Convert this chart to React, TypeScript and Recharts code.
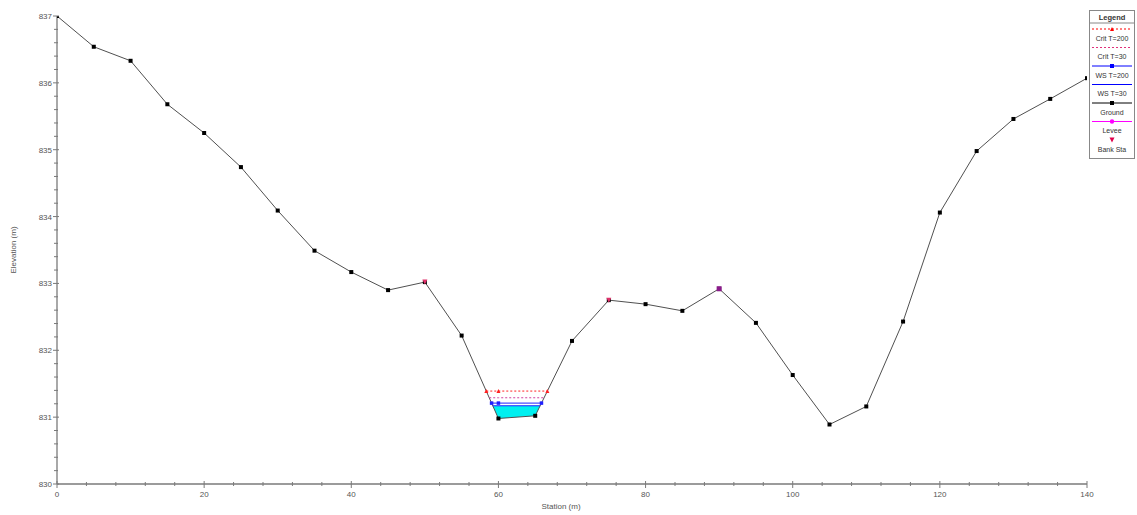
import React from 'react';
import { ComposedChart, Line, Area, XAxis, YAxis, Legend } from 'recharts';

// ---- Data ----
const stations = [0, 5, 10, 15, 20, 25, 30, 35, 40, 45, 50, 55, 60, 65, 70, 75, 80, 85, 90, 95, 100, 105, 110, 115, 120, 125, 130, 135, 140];
const groundElev = [837.0, 836.54, 836.33, 835.68, 835.25, 834.74, 834.09, 833.49, 833.17, 832.9, 833.02, 832.22, 830.98, 831.02, 832.14, 832.75, 832.69, 832.59, 832.92, 832.41, 831.63, 830.89, 831.16, 832.43, 834.06, 834.98, 835.46, 835.76, 836.07];

const critT200Stations = [58.35, 60, 66.65];
const critT200Elev = 831.39;
const critT30Stations = [58.75, 60, 66.2];
const critT30Elev = 831.29;
const wsT200Stations = [59.07, 60, 65.85];
const wsT200Elev = 831.21;
const wsT30Stations = [59.23, 60, 65, 65.67];
const wsT30Ground = [831.17, 830.98, 831.02, 831.17];
const wsT30Elev = 831.17;

const bankStaStations = [50, 75];
const bankStaElev = [833.02, 832.75];
const leveeStations = [90];
const leveeElev = [832.92];

const xMajorTicks = [0, 20, 40, 60, 80, 100, 120, 140];
const yMajorTicks = [830, 831, 832, 833, 834, 835, 836, 837];
const xMinorStep = 4;
const yMinorPerMajor = 5;

const legendItems = ['Crit T=200', 'Crit T=30', 'WS T=200', 'WS T=30', 'Ground', 'Levee', 'Bank Sta'];

// ---- Derived tables ----
const groundData = stations.map((s, i) => ({ x: s, y: groundElev[i] }));
const flat = (sts: number[], e: number) => sts.map((s) => ({ x: s, y: e }));
const critT200Data = flat(critT200Stations, critT200Elev);
const critT30Data = flat(critT30Stations, critT30Elev);
const wsT200Data = flat(wsT200Stations, wsT200Elev);
const wsT30Data = [
  { x: wsT30Stations[0], y: wsT30Elev },
  { x: wsT30Stations[wsT30Stations.length - 1], y: wsT30Elev },
];
const wsT30Fill = wsT30Stations.map((s, i) => ({ x: s, r: [wsT30Ground[i], wsT30Elev] }));
const bankData = bankStaStations.map((s, i) => ({ x: s, y: bankStaElev[i] }));
const leveeData = leveeStations.map((s, i) => ({ x: s, y: leveeElev[i] }));

const xTicks: number[] = [];
for (let v = xMajorTicks[0]; v <= xMajorTicks[xMajorTicks.length - 1]; v += xMinorStep) xTicks.push(v);
const yTicks: number[] = [];
yMajorTicks.forEach((m, i) => {
  if (i === 0) { yTicks.push(m); return; }
  const prev = yMajorTicks[i - 1];
  for (let k = 1; k <= yMinorPerMajor; k++) yTicks.push(Math.round((prev + ((m - prev) * k) / yMinorPerMajor) * 100) / 100);
});

const FONT = '"Liberation Sans", Arial, sans-serif';
const AXIS = '#7a7a7a';
const TEXT = '#555';

const XTick = (p: any) => {
  const v = p.payload.value;
  const major = xMajorTicks.includes(v);
  return (
    <g>
      <line x1={p.x} x2={p.x} y1={p.y - (major ? 3 : 2)} y2={p.y + (major ? 4 : 2)} stroke={AXIS} strokeWidth={1} />
      {major && (
        <text x={p.x} y={p.y + 13} textAnchor="middle" fontSize={8} fontFamily={FONT} fill={TEXT}>{v}</text>
      )}
    </g>
  );
};

const YTick = (p: any) => {
  const v = p.payload.value;
  const major = Number.isInteger(v);
  return (
    <g>
      <line x1={p.x - (major ? 4 : 3)} x2={p.x + (major ? 2 : 1)} y1={p.y} y2={p.y} stroke={AXIS} strokeWidth={1} />
      {major && (
        <text x={p.x - 5} y={p.y + 3} textAnchor="end" fontSize={8} fontFamily={FONT} fill={TEXT}>{v}</text>
      )}
    </g>
  );
};

const sq = (fill: string, size = 4) => (p: any) => (
  <rect key={`s${p.index}`} x={p.cx - size / 2} y={p.cy - size / 2} width={size} height={size} fill={fill} />
);
const tri = (fill: string, size = 4) => (p: any) => (
  <path key={`t${p.index}`} d={`M${p.cx - size / 2},${p.cy + size / 2}L${p.cx + size / 2},${p.cy + size / 2}L${p.cx},${p.cy - size / 2}Z`} fill={fill} />
);
const triDown = (fill: string, size = 5) => (p: any) => (
  <path key={`d${p.index}`} d={`M${p.cx - size / 2},${p.cy - size / 2}L${p.cx + size / 2},${p.cy - size / 2}L${p.cx},${p.cy + size / 2}Z`} fill={fill} />
);

const LegendBox = () => {
  const W = 46;
  const sampleY = (i: number) => 19 + i * 18.5;
  const labelY = (i: number) => 28 + i * 18.5;
  const sample = (i: number) => {
    const y = sampleY(i);
    const cx = W / 2;
    switch (i) {
      case 0:
        return (<g><line x1={3} x2={W - 3} y1={y} y2={y} stroke="#ff0000" strokeDasharray="2 2" /><path d={`M${cx - 2},${y + 2}L${cx + 2},${y + 2}L${cx},${y - 2}Z`} fill="#ff0000" /></g>);
      case 1:
        return (<g><line x1={3} x2={W - 3} y1={y} y2={y} stroke="#e0307a" strokeDasharray="2 2" /></g>);
      case 2:
        return (<g><line x1={3} x2={W - 3} y1={y} y2={y} stroke="#0000ff" /><rect x={cx - 2} y={y - 2} width={4} height={4} fill="#0000ff" /></g>);
      case 3:
        return (<g><line x1={3} x2={W - 3} y1={y} y2={y} stroke="#0000ff" /></g>);
      case 4:
        return (<g><line x1={3} x2={W - 3} y1={y} y2={y} stroke="#000" /><rect x={cx - 2} y={y - 2} width={4} height={4} fill="#000" /></g>);
      case 5:
        return (<g><line x1={3} x2={W - 3} y1={y} y2={y} stroke="#ff00ff" /><circle cx={cx} cy={y} r={2.2} fill="#ff00ff" /></g>);
      default:
        return (<g><path d={`M${cx - 2.5},${y - 2.5}L${cx + 2.5},${y - 2.5}L${cx},${y + 2.5}Z`} fill="#e0004a" /></g>);
    }
  };
  return (
    <svg width={W} height={150} style={{ display: 'block' }}>
      <rect x={0.5} y={0.5} width={W - 1} height={148} fill="#fff" stroke="#888" />
      <text x={W / 2} y={10} textAnchor="middle" fontSize={7.5} fontWeight="bold" fontFamily={FONT} fill="#333">Legend</text>
      <line x1={0.5} x2={W - 0.5} y1={13} y2={13} stroke="#888" />
      {legendItems.map((name, i) => (
        <g key={name}>
          {sample(i)}
          <text x={W / 2} y={labelY(i) + 2.5} textAnchor="middle" fontSize={7} fontFamily={FONT} fill="#333">{name}</text>
        </g>
      ))}
    </svg>
  );
};

export default function App() {
  return (
    <div style={{ position: 'absolute', left: 0, top: 0, width: 1137, height: 515, background: '#fff' }}>
      <ComposedChart width={1137} height={515} margin={{ top: 16, right: 50, bottom: 11, left: 17 }}>
        <XAxis
          type="number"
          dataKey="x"
          domain={[0, 140]}
          ticks={xTicks}
          interval={0}
          tickLine={false}
          tickSize={0}
          tickMargin={0}
          tick={XTick}
          axisLine={{ stroke: AXIS, strokeWidth: 1.3 }}
          height={20}
          allowDataOverflow
          label={{
            content: () => (
              <text x={561} y={509} textAnchor="middle" fontSize={8} fontFamily={FONT} fill={TEXT}>Station (m)</text>
            ),
          }}
        />
        <YAxis
          type="number"
          domain={[830, 837]}
          ticks={yTicks}
          interval={0}
          tickLine={false}
          tickSize={0}
          tickMargin={0}
          tick={YTick}
          axisLine={{ stroke: AXIS, strokeWidth: 1.3 }}
          width={40}
          allowDataOverflow
          label={{
            content: () => (
              <text x={16} y={250} transform="rotate(-90 16 250)" textAnchor="middle" fontSize={8} fontFamily={FONT} fill={TEXT}>Elevation (m)</text>
            ),
          }}
        />
        <Area data={wsT30Fill} dataKey="r" type="linear" fill="#00f0f0" fillOpacity={1} stroke="none" isAnimationActive={false} />
        <Line data={groundData} dataKey="y" type="linear" stroke="#505050" strokeWidth={1} dot={sq('#000')} activeDot={false} isAnimationActive={false} />
        <Line data={critT200Data} dataKey="y" type="linear" stroke="#ff2020" strokeWidth={1} strokeDasharray="2 2" dot={tri('#ff2020')} activeDot={false} isAnimationActive={false} />
        <Line data={critT30Data} dataKey="y" type="linear" stroke="#d040a0" strokeWidth={1} strokeDasharray="2 2" dot={false} activeDot={false} isAnimationActive={false} />
        <Line data={wsT200Data} dataKey="y" type="linear" stroke="#2020ff" strokeWidth={1} dot={sq('#2020ff', 3.5)} activeDot={false} isAnimationActive={false} />
        <Line data={wsT30Data} dataKey="y" type="linear" stroke="#2020ff" strokeWidth={1} dot={false} activeDot={false} isAnimationActive={false} />
        <Line data={leveeData} dataKey="y" type="linear" stroke="none" dot={sq('#8a1a8a', 5)} activeDot={false} isAnimationActive={false} />
        <Line data={bankData} dataKey="y" type="linear" stroke="none" dot={triDown('#e0306a', 5)} activeDot={false} isAnimationActive={false} />
        <Legend
          layout="horizontal"
          verticalAlign="middle"
          align="center"
          content={() => <LegendBox />}
          wrapperStyle={{ position: 'absolute', left: 1089, top: 10, width: 46, height: 150 }}
        />
      </ComposedChart>
    </div>
  );
}
